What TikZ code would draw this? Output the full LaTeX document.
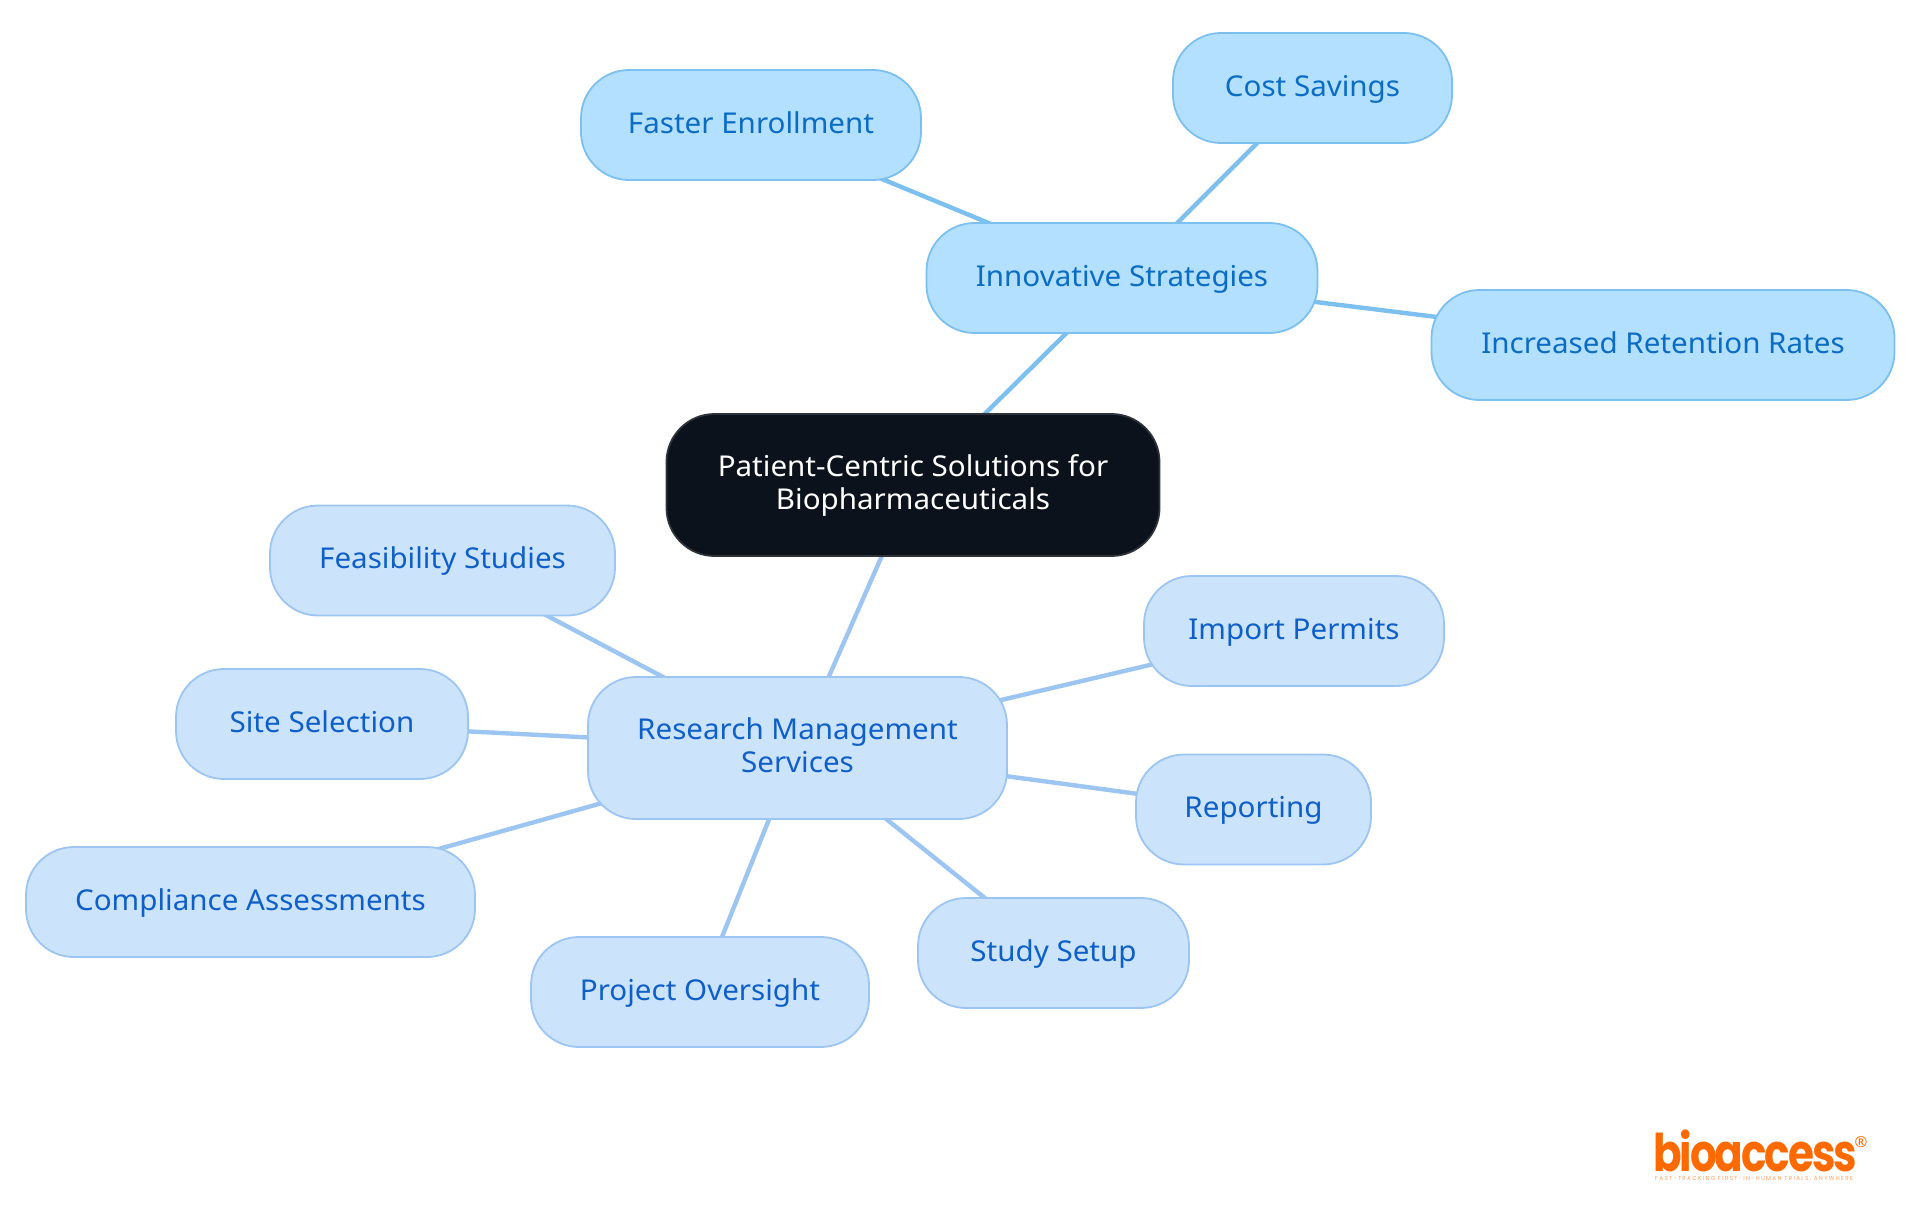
\documentclass[tikz,border=0pt]{standalone}
\usepackage{fontspec}
\setmainfont{Noto Sans}[FakeStretch=1.03]
\newfontfamily\logofont{Poppins}[BoldFont={Poppins Bold},BoldFeatures={FakeStretch=0.81,LetterSpace=-4}]
\newfontfamily\tagfont{Poppins}[LetterSpace=23]
\usetikzlibrary{backgrounds}
\definecolor{rootfill}{HTML}{0B121B}
\definecolor{rootline}{HTML}{2E333A}
\definecolor{skyfill}{HTML}{B3E0FF}
\definecolor{skyline}{HTML}{7CC0F0}
\definecolor{skytext}{HTML}{0A6CC4}
\definecolor{bluefill}{HTML}{CCE3FC}
\definecolor{blueline}{HTML}{9CC5F2}
\definecolor{bluetext}{HTML}{0E5FC7}
\definecolor{logoorange}{HTML}{FF6A00}
\tikzset{
  x=1pt,y=-1pt,
  box/.style={rectangle,rounded corners=48pt,line width=1.8pt,inner sep=0pt,align=center,
    font=\fontsize{28.7}{33}\selectfont},
  oneline/.style={text height=19pt,text depth=3pt},
  twolines/.style={text height=52pt,text depth=2.5pt},
  rootbox/.style={box,twolines,fill=rootfill,draw=rootline,text=white},
  skybox/.style={box,fill=skyfill,draw=skyline,text=skytext},
  bluebox/.style={box,fill=bluefill,draw=blueline,text=bluetext},
  skyedge/.style={draw=skyline,line width=4.4pt},
  blueedge/.style={draw=blueline,line width=4.4pt},
}
\begin{document}
\begin{tikzpicture}
\useasboundingbox (0,0) rectangle (1920,1215);
\node[rootbox,minimum width=493pt,minimum height=142pt] (root) at (913,485) {Patient-Centric Solutions for\\Biopharmaceuticals};
\node[skybox,oneline,minimum width=391pt,minimum height=110pt] (innov) at (1122,278) {Innovative Strategies};
\node[skybox,oneline,minimum width=340pt,minimum height=110pt] (faster) at (751,125) {Faster Enrollment};
\node[skybox,oneline,minimum width=279pt,minimum height=110pt] (cost) at (1312.5,88) {Cost Savings};
\node[skybox,oneline,minimum width=463pt,minimum height=110pt] (retention) at (1663,345) {Increased Retention Rates};
\node[bluebox,twolines,minimum width=419pt,minimum height=142pt] (research) at (797.5,748) {Research Management\\Services};
\node[bluebox,oneline,minimum width=345pt,minimum height=110pt] (feas) at (442.5,560.5) {Feasibility Studies};
\node[bluebox,oneline,minimum width=292pt,minimum height=110pt] (site) at (322,724) {Site Selection};
\node[bluebox,oneline,minimum width=449pt,minimum height=110pt] (comp) at (250.5,902) {Compliance Assessments};
\node[bluebox,oneline,minimum width=338pt,minimum height=110pt] (proj) at (700,992) {Project Oversight};
\node[bluebox,oneline,minimum width=271pt,minimum height=110pt] (study) at (1053.5,953) {Study Setup};
\node[bluebox,oneline,minimum width=235pt,minimum height=110pt] (rep) at (1253.5,809.5) {Reporting};
\node[bluebox,oneline,minimum width=300pt,minimum height=110pt] (imp) at (1294,631) {Import Permits};
\begin{scope}[on background layer]
\draw[skyedge] (root.center) -- (innov.center);
\draw[skyedge] (innov.center) -- (faster.center);
\draw[skyedge] (innov.center) -- (cost.center);
\draw[skyedge] (innov.center) -- (retention.center);
\draw[blueedge] (root.center) -- (research.center);
\draw[blueedge] (research.center) -- (feas.center);
\draw[blueedge] (research.center) -- (site.center);
\draw[blueedge] (research.center) -- (comp.center);
\draw[blueedge] (research.center) -- (proj.center);
\draw[blueedge] (research.center) -- (study.center);
\draw[blueedge] (research.center) -- (rep.center);
\draw[blueedge] (research.center) -- (imp.center);
\end{scope}
\node[anchor=base west,inner sep=0pt,text depth=0pt,text=logoorange,font={\logofont\bfseries\fontsize{52}{52}\selectfont}] (logo) at (1653,1171) {bioaccess};
\node[anchor=center,inner sep=0pt,text=logoorange,font={\fontsize{15}{15}\selectfont}] (reg) at (1861,1142) {®};
\node[anchor=base west,inner sep=0pt,text=logoorange!65,font={\tagfont\fontsize{5.7}{6}\selectfont}] (tag) at (1655,1180) {FAST-TRACKING FIRST-IN-HUMAN TRIALS, ANYWHERE};
\end{tikzpicture}
\end{document}
